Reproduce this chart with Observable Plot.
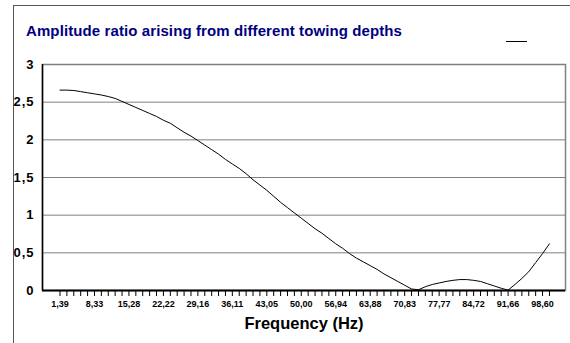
<!DOCTYPE html>
<html>
<head>
<meta charset="utf-8">
<script src="https://cdn.jsdelivr.net/npm/d3@7"></script>
<script src="https://cdn.jsdelivr.net/npm/@observablehq/plot@0.6"></script>
<style>
  html, body { margin: 0; padding: 0; background: #fff; }
  body { width: 570px; height: 343px; overflow: hidden; position: relative; font-family: "Liberation Sans", Arial, sans-serif; }
  #frame { position: absolute; left: 13px; top: 5px; width: 600px; height: 400px; border-left: 1px solid #555; border-top: 1px solid #555; }
  #title { position: absolute; left: 26px; top: 22px; font-size: 15px; font-weight: bold; color: #000080; white-space: nowrap; letter-spacing: 0.1px; }
  #legend { position: absolute; left: 506px; top: 41px; width: 21px; height: 0; border-top: 1px solid #000; }
  #chart { position: absolute; left: 0; top: 0; }
  g[aria-label="y-axis tick label"] text { letter-spacing: 1px; }
</style>
</head>
<body>
<div id="frame"></div>
<div id="chart"></div>
<div id="title">Amplitude ratio arising from different towing depths</div>
<div id="legend"></div>
<script>
// Category index (1..72) of the frequency steps
const categories = d3.range(1, 73);
// Amplitude ratio values
const amplitude = [
  2.66, 2.66, 2.655, 2.64, 2.625, 2.61, 2.595, 2.575, 2.55, 2.51,
  2.47, 2.43, 2.39, 2.35, 2.31, 2.26, 2.22, 2.16, 2.10, 2.05,
  1.99, 1.93, 1.87, 1.81, 1.74, 1.68, 1.62, 1.55, 1.47, 1.40,
  1.33, 1.25, 1.17, 1.10, 1.03, 0.96, 0.89, 0.82, 0.76, 0.69,
  0.62, 0.56, 0.49, 0.43, 0.38, 0.33, 0.28, 0.22, 0.17, 0.12,
  0.07, 0.02, 0.01, 0.05, 0.08, 0.10, 0.12, 0.135, 0.145, 0.145,
  0.135, 0.12, 0.09, 0.06, 0.03, 0.005, 0.08, 0.16, 0.25, 0.37,
  0.49, 0.62
];
// X tick labels (every 5th category)
const labelCategories = [1, 6, 11, 16, 21, 26, 31, 36, 41, 46, 51, 56, 61, 66, 71];
const tickLabels = ["1,39", "8,33", "15,28", "22,22", "29,16", "36,11", "43,05", "50,00",
  "56,94", "63,88", "70,83", "77,77", "84,72", "91,66", "98,60"];
const yTicks = [0, 0.5, 1, 1.5, 2, 2.5, 3];
const yTickLabels = ["0", "0,5", "1", "1,5", "2", "2,5", "3"];

const data = categories.map((k, i) => ({k, v: amplitude[i]}));
const labelMap = new Map(labelCategories.map((k, i) => [k, tickLabels[i]]));
const yLabelMap = new Map(yTicks.map((t, i) => [t, yTickLabels[i]]));

const xDomain = [-1.54, 74.33];

const chart = Plot.plot({
  width: 570,
  height: 343,
  marginLeft: 42,
  marginRight: 5,
  marginTop: 64,
  marginBottom: 53,
  style: {fontFamily: "Liberation Sans, Arial, sans-serif", background: "transparent", color: "#000"},
  x: {type: "linear", domain: xDomain},
  y: {domain: [0, 3]},
  marks: [
    Plot.frame({stroke: "#808080", strokeWidth: 1.5}),
    Plot.gridY(yTicks, {stroke: "#808080", strokeOpacity: 1, strokeWidth: 1}),
    Plot.ruleX([xDomain[0]], {stroke: "#000", strokeWidth: 1.5}),
    Plot.ruleY([0], {stroke: "#000", strokeWidth: 2}),
    Plot.axisY({ticks: yTicks, tickSize: 0, tickPadding: 8, tickFormat: d => yLabelMap.get(d), fontSize: 13, fontWeight: "bold", label: null}),
    Plot.axisX({ticks: categories, tickSize: 6, tickPadding: 4, tickFormat: d => labelMap.get(d) ?? "", fontSize: 9, fontWeight: "bold", label: null, stroke: "#000"}),
    Plot.text(["Frequency (Hz)"], {frameAnchor: "bottom", dy: 38, fontSize: 16.5, fontWeight: "bold", fill: "#000"}),
    Plot.line(data, {x: "k", y: "v", stroke: "#000", strokeWidth: 1})
  ]
});
document.getElementById("chart").appendChild(chart);
</script>
</body>
</html>
